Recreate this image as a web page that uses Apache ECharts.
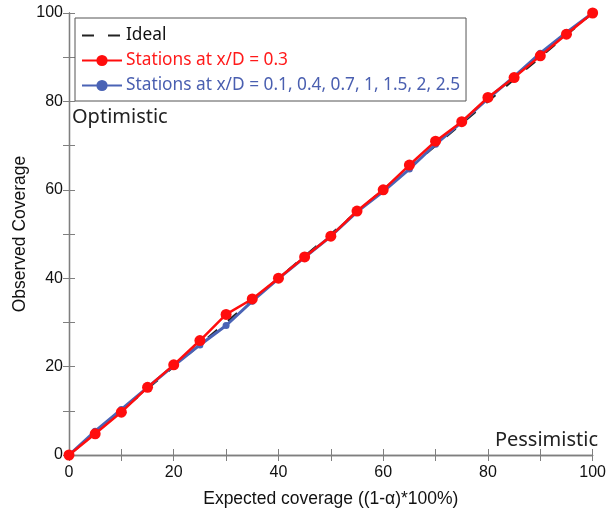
<!DOCTYPE html>
<html><head><meta charset="utf-8">
<script src="https://cdn.jsdelivr.net/npm/echarts@6/dist/echarts.min.js"></script>
<style>html,body{margin:0;padding:0;background:#fff}#c{width:609px;height:514px}</style>
</head><body><div id="c"></div>
<script>
const expected = [0,5,10,15,20,25,30,35,40,45,50,55,60,65,70,75,80,85,90,95,100];
const ideal = [0,100];
const redObserved = [0,4.8,9.7,15.3,20.4,25.9,31.8,35.3,40.0,44.8,49.5,55.2,60.0,65.6,71.0,75.4,80.9,85.4,90.3,95.2,100];
const blueObserved = [0,5.4,10.3,15.3,20.2,24.9,29.3,34.8,39.9,44.7,49.5,55.0,59.6,64.7,70.3,75.3,80.6,85.6,90.9,95.6,100];
const xTicks = [0,20,40,60,80,100];
const yTicks = [0,20,40,60,80,100];
const names = ['Ideal','Stations at x/D = 0.3','Stations at x/D = 0.1, 0.4, 0.7, 1, 1.5, 2, 2.5'];

const chart = echarts.init(document.getElementById('c'));
const axisCol = '#7f7f7f';
const lab = {color:'#111', fontFamily:'Liberation Sans', fontSize:16};
const nameStyle = {color:'#111', fontFamily:'Liberation Sans', fontSize:17.5};
function baseAxis(extra){
  return Object.assign({
    min:0, max:100, interval:10,
    axisLine:{show:true, lineStyle:{color:axisCol, width:1.3}},
    axisTick:{show:true, inside:true, length:6, lineStyle:{color:axisCol}},
    splitLine:{show:false}
  }, extra);
}
chart.setOption({
  animation:false,
  grid:{left:69, right:9, top:13, bottom:59},
  xAxis:[
    baseAxis({type:'value', position:'bottom',
      axisLabel:Object.assign({margin:10, formatter:v=>xTicks.includes(v)?String(v):''}, lab),
      name:'Expected coverage ((1-\u03b1)*100%)', nameLocation:'middle', nameGap:35,
      nameTextStyle:nameStyle}),
    baseAxis({type:'value', position:'top', axisLabel:{show:false}})
  ],
  yAxis:[
    baseAxis({type:'value', position:'left',
      axisLabel:Object.assign({margin:6, formatter:v=>yTicks.includes(v)?String(v):''}, lab),
      name:'Observed Coverage', nameLocation:'middle', nameGap:40, nameMoveOverlap:false,
      nameTextStyle:nameStyle}),
    baseAxis({type:'value', position:'right', axisLabel:{show:false}})
  ],
  legend:{
    left:75, top:18, orient:'vertical', itemWidth:40, itemHeight:14, itemGap:8,
    borderColor:'#555', borderWidth:1, borderRadius:0, padding:[9,6,7,6],
    backgroundColor:'#fff',
    textStyle:{fontFamily:'Noto Sans', fontSize:17.3, padding:[0,0,0,-1]},
    data:[
      {name:names[0], textStyle:{color:'#111'}, itemStyle:{opacity:0}},
      {name:names[1], textStyle:{color:'#ff1a1a'}},
      {name:names[2], textStyle:{color:'#4a5fb0'}}
    ]
  },
  graphic:[
    {type:'text', left:72, top:107, style:{text:'Optimistic', fill:'#222', font:'20px "Noto Sans"'}},
    {type:'text', right:11, top:430, style:{text:'Pessimistic', fill:'#222', font:'20px "Noto Sans"'}}
  ],
  series:[
    {name:names[0], type:'line', data:ideal.map(v=>[v,v]), showSymbol:false, symbol:'none',
     lineStyle:{color:'#222', width:2.2, type:[12,14]}, itemStyle:{color:'#222'}, z:1},
    {name:names[2], type:'line', data:expected.map((x,i)=>[x,blueObserved[i]]), symbol:'circle', symbolSize:7,
     lineStyle:{color:'#4a63b5', width:3}, itemStyle:{color:'#4a63b5'}, z:2},
    {name:names[1], type:'line', data:expected.map((x,i)=>[x,redObserved[i]]), symbol:'circle', symbolSize:11,
     lineStyle:{color:'#ff0d0d', width:2.5}, itemStyle:{color:'#ff0d0d'}, z:3}
  ]
});
</script></body></html>
